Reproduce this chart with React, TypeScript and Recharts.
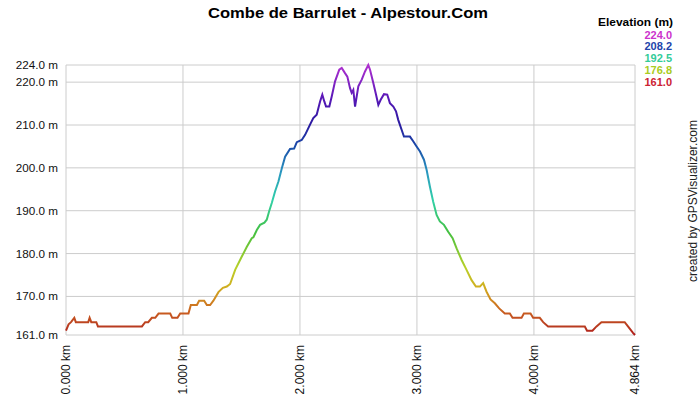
import { LineChart, Line, XAxis, YAxis, CartesianGrid } from "recharts"

// distance along the track (km) and elevation (m)
const distKm = [
  0, 0.022, 0.043, 0.071, 0.084, 0.19, 0.202, 0.216, 0.259, 0.273,
  0.649, 0.677, 0.703, 0.734, 0.763, 0.791, 0.891, 0.908, 0.953, 0.976,
  1.047, 1.067, 1.119, 1.138, 1.181, 1.204, 1.232, 1.26, 1.303, 1.341,
  1.375, 1.403, 1.446, 1.503, 1.546, 1.588, 1.602, 1.631, 1.659, 1.696,
  1.716, 1.736, 1.759, 1.787, 1.816, 1.845, 1.873, 1.915, 1.95, 1.973,
  2.015, 2.044, 2.086, 2.114, 2.143, 2.172, 2.191, 2.208, 2.223, 2.251,
  2.272, 2.3, 2.336, 2.357, 2.385, 2.405, 2.428, 2.442, 2.456, 2.471,
  2.485, 2.499, 2.528, 2.556, 2.584, 2.599, 2.627, 2.65, 2.67, 2.69,
  2.718, 2.746, 2.769, 2.798, 2.821, 2.84, 2.869, 2.889, 2.94, 2.968,
  2.997, 3.026, 3.06, 3.083, 3.111, 3.139, 3.168, 3.196, 3.231, 3.267,
  3.305, 3.339, 3.382, 3.424, 3.467, 3.504, 3.538, 3.566, 3.595, 3.629,
  3.666, 3.703, 3.751, 3.794, 3.817, 3.894, 3.914, 3.971, 3.993, 4.05,
  4.079, 4.121, 4.435, 4.454, 4.5, 4.535, 4.577, 4.776, 4.804, 4.847,
  4.864,
]

const elevM = [
  162, 163.5, 164, 165, 164, 164, 165, 164, 164, 163,
  163, 164, 164, 165, 165, 166, 166, 165, 165, 166,
  166, 168, 168, 169, 169, 168, 168, 169, 171, 172,
  172.3, 172.9, 176.2, 179.3, 181.6, 183.6, 183.8, 185.5, 186.7, 187.2,
  187.9, 189.8, 191.8, 194.5, 196.8, 199.9, 202.6, 204.4, 204.5, 206,
  206.5, 207.7, 210.1, 211.6, 212.4, 215.5, 217.1, 215.5, 214.3, 214.3,
  216.7, 220.2, 222.9, 223.3, 222.1, 221.3, 218.6, 217.5, 218.2, 214.3,
  216.7, 219, 220.6, 222.5, 224, 222.9, 219.8, 217.1, 214.7, 215.9,
  217.2, 217.1, 215.1, 214.3, 213.2, 211.2, 208.9, 207.3, 207.3, 206.2,
  205, 203.8, 201.9, 199.5, 195.6, 192.1, 189, 187.5, 186.7, 185.1,
  183.6, 181.2, 178.5, 176.2, 173.8, 172.3, 172.3, 173.1, 171.1, 169.3,
  168.4, 167.2, 166, 166, 165, 165, 166, 166, 165, 165,
  164, 163, 163, 162, 162, 163, 164, 164, 163, 161.5,
  161,
]

const xTicks = [0, 1, 2, 3, 4, 4.864]
const yTicks = [161, 170, 180, 190, 200, 210, 220, 224]

const legendLabels = ["224.0", "208.2", "192.5", "176.8", "161.0"]
const legendColors = ["#cc33cc", "#2244aa", "#33cc99", "#aacc22", "#cc2233"]

const data = distKm.map((d, i) => ({ km: d, elev: elevM[i] }))

const FONT = "'Liberation Sans', Arial, sans-serif"

const XTick = (props: any) => {
  const { x, y, payload } = props
  return (
    <g transform={`translate(${x},${y + 2}) rotate(-90)`}>
      <text x={0} y={0} dy={4} textAnchor="end" fontSize={12} fontFamily={FONT} fill="#111">
        {payload.value.toFixed(3)} km
      </text>
    </g>
  )
}

const YTick = (props: any) => {
  const { x, y, payload } = props
  return (
    <text x={x} y={y} dy={4} textAnchor="end" fontSize={11.7} fontFamily={FONT} fill="#111">
      {payload.value.toFixed(1)} m
    </text>
  )
}

export default function App() {
  return (
    <div style={{ position: "relative", width: 700, height: 400, background: "#fff" }}>
      <style>{"body{margin:0}"}</style>
      <LineChart width={700} height={400} data={data} margin={{ top: 65, right: 65, bottom: 5, left: 6 }}>
        <defs>
          <linearGradient id="elevGrad" x1="0" y1="0" x2="0" y2="1">
            <stop offset="0%" stopColor="#b030d0" />
            <stop offset="12%" stopColor="#5a18b8" />
            <stop offset="22%" stopColor="#2a1aa0" />
            <stop offset="30%" stopColor="#1a4aa8" />
            <stop offset="40%" stopColor="#2a98c0" />
            <stop offset="50%" stopColor="#30d0a8" />
            <stop offset="62%" stopColor="#44c040" />
            <stop offset="75%" stopColor="#b8d028" />
            <stop offset="82%" stopColor="#d0b020" />
            <stop offset="87%" stopColor="#d08820" />
            <stop offset="92%" stopColor="#c85a20" />
            <stop offset="97%" stopColor="#b83a20" />
            <stop offset="100%" stopColor="#b01818" />
          </linearGradient>
        </defs>
        <CartesianGrid stroke="#cccccc" />
        <XAxis
          dataKey="km"
          type="number"
          domain={[0, 4.864]}
          ticks={xTicks}
          height={60}
          axisLine={false}
          tickLine={false}
          tick={<XTick />}
          interval={0}
        />
        <YAxis
          type="number"
          domain={[161, 224]}
          ticks={yTicks}
          width={60}
          axisLine={false}
          tickLine={false}
          tick={<YTick />}
          interval={0}
        />
        <Line
          type="linear"
          dataKey="elev"
          stroke="url(#elevGrad)"
          strokeWidth={2}
          dot={false}
          isAnimationActive={false}
        />
      </LineChart>
      <svg width={700} height={400} style={{ position: "absolute", left: 0, top: 0, pointerEvents: "none" }}>
        <text x={348} y={18} textAnchor="middle" fontSize={15} fontWeight="bold" fontFamily={FONT} fill="#000" textLength={280} lengthAdjust="spacingAndGlyphs">
          Combe de Barrulet - Alpestour.Com
        </text>
        <text x={673} y={26} textAnchor="end" fontSize={11.5} fontWeight="bold" fontFamily={FONT} fill="#000" textLength={75} lengthAdjust="spacingAndGlyphs">
          Elevation (m)
        </text>
        {legendLabels.map((l, i) => (
          <text key={l} x={672} y={38.5 + i * 11.8} textAnchor="end" fontSize={11} fontWeight="bold" fontFamily={FONT} fill={legendColors[i]}>
            {l}
          </text>
        ))}
        <text transform="translate(697,201) rotate(-90)" textAnchor="middle" fontSize={12} fontFamily={FONT} fill="#222">
          created by GPSVisualizer.com
        </text>
      </svg>
    </div>
  )
}
